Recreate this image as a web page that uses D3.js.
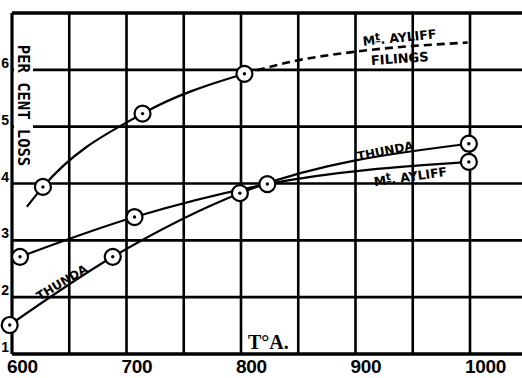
<!DOCTYPE html>
<html>
<head>
<meta charset="utf-8">
<script src="https://cdn.jsdelivr.net/npm/d3@7"></script>
<style>
  html, body { margin: 0; padding: 0; background: #fff; }
  #chart { width: 522px; height: 378px; overflow: hidden; }
</style>
</head>
<body>
<div id="chart"></div>
<script>
// readings (temperature °A, per cent loss)
const thundaT = [598, 688, 799, 999];
const thundaLoss = [1.51, 2.71, 3.83, 4.70];
const ayliffT = [607, 707, 823, 999];
const ayliffLoss = [2.71, 3.41, 3.99, 4.38];
const filingsT = [627, 714, 803];
const filingsLoss = [3.94, 5.23, 5.93];
// filings curve is drawn a little below the first reading, then dashed past 800
const filingsLineT = [613, 627, 714, 803];
const filingsLineLoss = [3.59, 3.94, 5.23, 5.93];
const filingsDashT = [803, 843, 900, 998];
const filingsDashLoss = [5.93, 6.14, 6.32, 6.48];

const xTicks = [600, 700, 800, 900, 1000];
const xGrid = [600, 650, 700, 750, 800, 850, 900, 950, 1000];
const yTicks = [1, 2, 3, 4, 5, 6];

const W = 522, H = 378;
const x = d3.scaleLinear().domain([600, 1000]).range([12, 470]);
const y = d3.scaleLinear().domain([1, 7]).range([354, 13]);

const svg = d3.select('#chart').append('svg').attr('width', W).attr('height', H)
  .style('background', '#fff');

const pts = (ts, vs) => ts.map((t, i) => [t, vs[i]]);
const line = d3.line().x((d) => x(d[0])).y((d) => y(d[1])).curve(d3.curveMonotoneX);

// grid
const grid = svg.append('g').attr('stroke', '#000').attr('stroke-width', 2.6);
xGrid.forEach((v) => {
  grid.append('line').attr('x1', x(v)).attr('x2', x(v)).attr('y1', y(7)).attr('y2', y(1))
    .attr('stroke-width', v === 600 ? 3.2 : 2.6);
});
[1, 2, 3, 4, 5, 6, 7].forEach((v) => {
  grid.append('line').attr('x1', x(600)).attr('x2', W).attr('y1', y(v)).attr('y2', y(v))
    .attr('stroke-width', v === 1 || v === 7 ? 3.4 : 2.6);
});
// white gap behind the axis title
svg.append('rect').attr('x', 14).attr('y', 40).attr('width', 19).attr('height', 132).attr('fill', '#fff');

svg.append('text')
  .attr('transform', `translate(18,${(43 + 168) / 2}) rotate(90)`)
  .attr('text-anchor', 'middle')
  .attr('font-family', '"DejaVu Sans Mono", monospace')
  .attr('font-weight', 700)
  .attr('font-size', 15.5)
  .text('PER CENT LOSS');

// tick labels
svg.append('g').selectAll('text').data(yTicks).join('text')
  .attr('x', 9).attr('y', (d) => y(d) - 2)
  .attr('text-anchor', 'end')
  .attr('font-family', '"Liberation Sans", sans-serif')
  .attr('font-weight', 700).attr('font-size', 14)
  .text((d) => d);

svg.append('g').selectAll('text').data(xTicks).join('text')
  .attr('x', (d) => x(d) - 5).attr('y', 373)
  .attr('font-family', '"Liberation Sans", sans-serif')
  .attr('font-weight', 700).attr('font-size', 19)
  .attr('letter-spacing', -0.3)
  .text((d) => d);

svg.append('text').attr('x', 248).attr('y', 349)
  .attr('font-family', '"Liberation Serif", serif')
  .attr('font-weight', 700).attr('font-size', 20)
  .text('T°A.');

// curves
const curves = svg.append('g').attr('fill', 'none').attr('stroke', '#000').attr('stroke-width', 2.2);
curves.append('path').attr('d', line(pts(thundaT, thundaLoss)));
curves.append('path').attr('d', line(pts(ayliffT, ayliffLoss)));
curves.append('path').attr('d', line(pts(filingsLineT, filingsLineLoss)));
curves.append('path').attr('d', line(pts(filingsDashT, filingsDashLoss)))
  .attr('stroke-width', 2.6).attr('stroke-dasharray', '8 5');

// reading markers
const readings = [...pts(thundaT, thundaLoss), ...pts(ayliffT, ayliffLoss), ...pts(filingsT, filingsLoss)];
const mk = svg.append('g').selectAll('g').data(readings).join('g')
  .attr('transform', (d) => `translate(${x(d[0])},${y(d[1])})`);
mk.append('circle').attr('r', 8).attr('fill', '#fff').attr('stroke', '#000').attr('stroke-width', 2.2);
mk.append('circle').attr('r', 1.7).attr('fill', '#000');

// curve labels
function label(cx, cy, rot, parts, size = 12) {
  const t = svg.append('text')
    .attr('transform', `translate(${cx},${cy}) rotate(${rot})`)
    .attr('text-anchor', 'middle')
    .attr('font-family', '"DejaVu Sans", sans-serif')
    .attr('font-weight', 700).attr('font-size', size);
  parts.forEach((p) => {
    const s = t.append('tspan').text(p.s);
    if (p.sup) s.attr('dy', -4).attr('font-size', size - 2).attr('text-decoration', 'underline');
    if (p.down) s.attr('dy', 4);
  });
}
const mt = [{ s: 'M' }, { s: 't', sup: true }, { s: '. AYLIFF', down: true }];
label(400, 42, -6, mt, 12.5);
label(400, 63, -4, [{ s: 'FILINGS' }], 13);
label(386, 155, -11, [{ s: 'THUNDA' }]);
label(411, 181, -8, mt, 12.5);
label(64, 286, -31, [{ s: 'THUNDA' }]);
</script>
</body>
</html>
